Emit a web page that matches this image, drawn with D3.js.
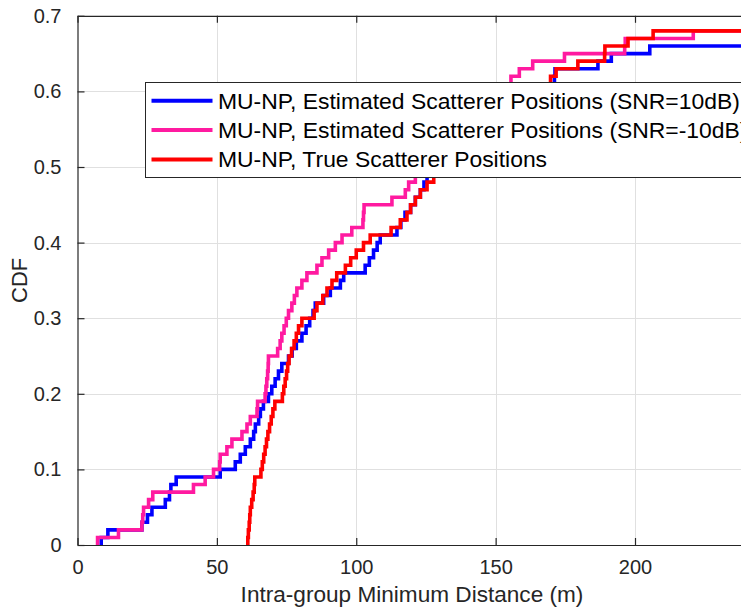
<!DOCTYPE html>
<html>
<head>
<meta charset="utf-8">
<script src="https://cdnjs.cloudflare.com/ajax/libs/d3/7.8.5/d3.min.js"></script>
<style>
  body { margin: 0; background: #fff; }
  svg { display: block; font-family: "Liberation Sans", Arial, sans-serif; }
</style>
</head>
<body>
<div id="chart"></div>
<script>
// sorted intra-group minimum distances (m); each sample adds 1/100 to the CDF
var blueDist = [8.5, 10.9, 23.1, 25.1, 26.7, 31.5, 33.0, 33.5, 35.4, 51.2,
  56.6, 58.4, 60.2, 62.0, 63.2, 63.8, 65.0, 65.6, 66.7, 68.5,
  69.7, 70.9, 72.1, 73.3, 75.7, 77.0, 78.5, 80.5, 82.0, 83.3,
  84.5, 85.3, 88.3, 90.7, 94.3, 95.5, 103.2, 104.7, 106.2, 107.5,
  108.6, 114.6, 116.0, 117.5, 119.5, 121.2, 123.0, 124.3, 125.4, 128.3,
  131, 134, 137.5, 141, 144, 147.5, 151, 154, 158, 162,
  166, 171.1, 171.3, 186.7, 191.5, 205.3];
var pinkDist = [7.2, 14.7, 23.1, 23.4, 23.7, 25.5, 27.0, 41.6, 45.8, 48.8,
  51.0, 51.2, 53.6, 55.4, 59.0, 60.8, 62.0, 64.4, 64.6, 67.3,
  67.6, 67.9, 68.2, 68.4, 68.5, 71.8, 72.7, 73.3, 74.1, 74.9,
  75.7, 76.9, 77.8, 78.7, 80.5, 82.3, 85.9, 87.7, 90.1, 92.5,
  94.9, 98.4, 102.4, 102.6, 102.8, 112.8, 117.6, 118.8, 121.2, 123.5,
  126, 129, 132, 135, 138, 141, 144, 147, 150, 152.5,
  154.5, 155.5, 158.5, 163.3, 174.7, 196.3, 196.5, 220.9];
var redDist = [61.1, 61.3, 61.6, 61.8, 62.0, 62.5, 63.0, 63.4, 63.6, 65.8,
  66.3, 66.8, 67.3, 67.8, 68.3, 68.9, 69.5, 70.1, 70.8, 73.5,
  74.0, 74.5, 75.0, 75.4, 75.9, 76.8, 77.7, 78.5, 79.3, 80.5,
  84.9, 85.9, 88.0, 89.5, 91.3, 93.0, 96.1, 98.0, 100.0, 102.6,
  105.0, 112.5, 115.8, 118.2, 119.5, 121.2, 123.0, 125.4, 127.8, 130.5,
  133.5, 137, 140.5, 144, 147.5, 151, 154.5, 158, 161.5, 165,
  168, 169.7, 171.7, 179.5, 189.1, 189.2, 197.5, 206.5];
var nSamples = 100;

var seriesNames = ["MU-NP, Estimated Scatterer Positions (SNR=10dB)",
  "MU-NP, Estimated Scatterer Positions (SNR=-10dB)",
  "MU-NP, True Scatterer Positions"];
var seriesColors = ["#0000ff", "#ff1aa0", "#ff0000"];
var xTicks = [0, 50, 100, 150, 200];
var yTicks = [0, 0.1, 0.2, 0.3, 0.4, 0.5, 0.6, 0.7];

var width = 741, height = 610;
var xMax = 240;
var x = d3.scaleLinear().domain([0, xMax]).range([77.5, 746.5]);
var y = d3.scaleLinear().domain([0, 0.7]).range([545, 15.8]);

var svg = d3.select("#chart").append("svg")
  .attr("width", width)
  .attr("height", height);

svg.append("clipPath").attr("id", "plot-clip")
  .append("rect")
    .attr("x", x(0)).attr("y", y(0.7))
    .attr("width", x(xMax) - x(0)).attr("height", y(0) - y(0.7));

// grid
var grid = svg.append("g").attr("stroke", "#e0e0e0").attr("stroke-width", 1);
grid.selectAll(".gx").data(xTicks.slice(1)).enter().append("line")
  .attr("x1", d => Math.round(x(d)) + 0.5).attr("x2", d => Math.round(x(d)) + 0.5)
  .attr("y1", y(0)).attr("y2", y(0.7));
grid.selectAll(".gy").data(yTicks.slice(1, -1)).enter().append("line")
  .attr("x1", x(0)).attr("x2", x(xMax))
  .attr("y1", d => Math.round(y(d)) + 0.5).attr("y2", d => Math.round(y(d)) + 0.5);

// empirical CDF staircases
var line = d3.line()
  .x(d => x(d[0]))
  .y(d => y(d[1]))
  .curve(d3.curveStepAfter);

function ecdf(vals) {
  var pts = [[vals[0], 0]];
  vals.forEach(function(v, i) { pts.push([v, (i + 1) / nSamples]); });
  pts.push([xMax, vals.length / nSamples]);
  return pts;
}

var curves = svg.append("g").attr("clip-path", "url(#plot-clip)");
[blueDist, pinkDist, redDist].forEach(function(vals, i) {
  curves.append("path")
    .attr("d", line(ecdf(vals)))
    .attr("fill", "none")
    .attr("stroke", seriesColors[i])
    .attr("stroke-width", 3.6);
});

// axes box with inward ticks
var axisColor = "#262626";
var xAxisB = d3.axisBottom(x).tickValues(xTicks).tickSizeInner(-7).tickSizeOuter(0).tickPadding(15);
var xAxisT = d3.axisTop(x).tickValues(xTicks).tickSizeInner(-7).tickSizeOuter(0).tickFormat("");
var yAxisL = d3.axisLeft(y).tickValues(yTicks).tickSizeInner(-7).tickSizeOuter(0).tickPadding(16)
  .tickFormat(d => d === 0 ? "0" : d3.format(".1f")(d));

function styleAxis(g) {
  g.select(".domain").attr("stroke", axisColor).attr("stroke-width", 1.2);
  g.selectAll(".tick line").attr("stroke", axisColor).attr("stroke-width", 1.2);
  g.selectAll(".tick text").attr("fill", axisColor)
    .style("font-size", "20px")
    .style("font-family", "'Liberation Sans', Arial, sans-serif");
}

svg.append("g").attr("transform", "translate(0," + y(0) + ")").call(xAxisB).call(styleAxis);
svg.append("g").attr("transform", "translate(0," + y(0.7) + ")").call(xAxisT).call(styleAxis);
svg.append("g").attr("transform", "translate(" + x(0) + ",0)").call(yAxisL).call(styleAxis);

// axis labels
svg.append("text")
  .attr("x", (x(0) + x(xMax)) / 2).attr("y", 602)
  .attr("text-anchor", "middle")
  .attr("fill", axisColor)
  .style("font-size", "22.6px")
  .text("Intra-group Minimum Distance (m)");

svg.append("text")
  .attr("transform", "translate(26.5," + (y(0) + y(0.7)) / 2 + ") rotate(-90)")
  .attr("text-anchor", "middle")
  .attr("fill", axisColor)
  .style("font-size", "22px")
  .text("CDF");

// legend
var legend = svg.append("g").attr("transform", "translate(145.5,82.5)");
legend.append("rect")
  .attr("width", 640).attr("height", 95)
  .attr("fill", "#fff")
  .attr("stroke", axisColor).attr("stroke-width", 1);
seriesNames.forEach(function(name, i) {
  var cy = 18.3 + i * 29.3;
  legend.append("line")
    .attr("x1", 6).attr("x2", 67)
    .attr("y1", cy).attr("y2", cy)
    .attr("stroke", seriesColors[i]).attr("stroke-width", 4);
  legend.append("text")
    .attr("x", 72.5).attr("y", cy + 8)
    .attr("fill", "#000")
    .style("font-size", "22.9px")
    .text(name);
});
</script>
</body>
</html>
